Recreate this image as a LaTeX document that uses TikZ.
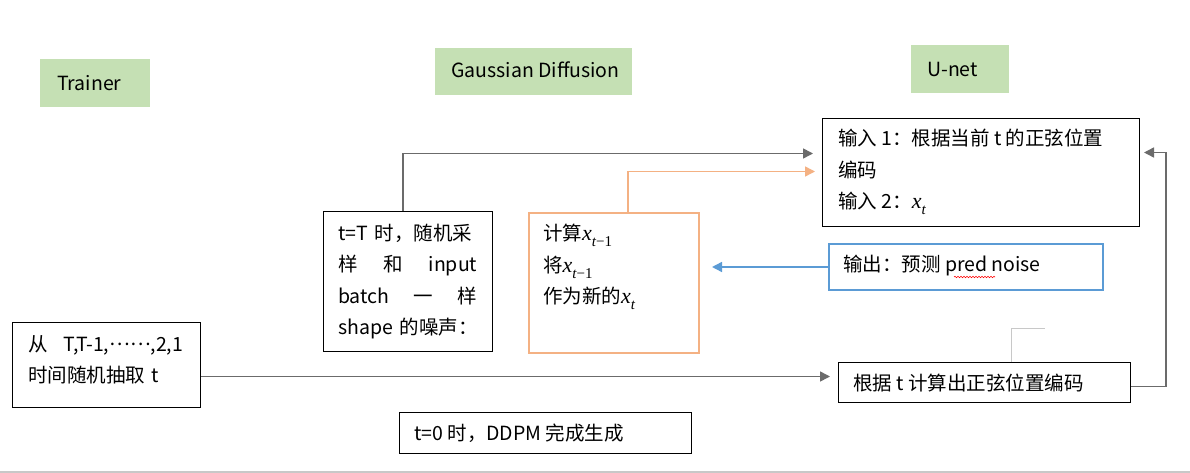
\documentclass[tikz,border=0pt]{standalone}
\usepackage{fontspec}
\setmainfont{Noto Sans CJK SC}
\newfontfamily\cambriaish{Liberation Serif}
\newcommand\vx[1]{{\fontsize{22}{22}\cambriaish\itshape x}\raisebox{-.3em}{\fontsize{15}{15}\cambriaish #1}}
\usetikzlibrary{arrows.meta,decorations.pathmorphing}
\definecolor{lgreen}{HTML}{C5E0B4}
\definecolor{org}{HTML}{F4B183}
\definecolor{blu}{HTML}{5B9BD5}
\definecolor{dgray}{HTML}{6B6B6B}
\definecolor{lgray}{HTML}{C8C8C8}
\begin{document}
\begin{tikzpicture}[x=1pt,y=-1pt,
  font=\fontsize{19.5}{31.5}\selectfont,
  box/.style={draw=black, line width=1pt, anchor=north west, inner sep=0pt},
  tag/.style={fill=lgreen, anchor=north west, inner sep=0pt},
  txt/.style={anchor=west, inner sep=0pt, align=left},
  arr/.style={-{Triangle[length=10pt,width=10pt]}, line width=1.5pt}]
\fill[white] (0,0) rectangle (1190,473);
\useasboundingbox (0,0) rectangle (1190,473);

% header tags
\node[tag, minimum width=110pt, minimum height=48pt] (trainer) at (40,59) {};
\node[txt] (trainerT) at (57,83) {Trainer};
\node[tag, minimum width=197pt, minimum height=47pt] (gauss) at (435,48) {};
\node[txt] (gaussT) at (451,70) {Gaussian Diffusion};
\node[tag, minimum width=98pt, minimum height=48pt] (unet) at (911,45) {};
\node[txt] (unetT) at (927,69) {U-net};

% U-net boxes
\node[box, minimum width=317pt, minimum height=108pt] (in) at (822,118) {};
\node[txt] (inT) at (838,172) {输入 1：根据当前 t 的正弦位置\\编码\\输入 2：\vx{\itshape t}};
\node[box, draw=blu, line width=2pt, minimum width=274pt, minimum height=46pt] (out) at (828,243) {};
\node[txt] (outT) at (843,266) {输出：预测 pred noise};
\node[box, minimum width=292pt, minimum height=40pt] (br) at (838,362) {};
\node[txt] (brT) at (853,383) {根据 t 计算出正弦位置编码};

% Trainer box
\node[box, minimum width=188pt, minimum height=85pt] (src) at (12,322) {};
\node[txt, text width=170pt] (srcT) at (28,360) {\makebox[155pt]{从\hfill T,T-1,\raisebox{.3em}{……},2,1}\\\mbox{时间随机抽取 t}};

% Gaussian Diffusion boxes
\node[box, minimum width=169pt, minimum height=140pt] (tT) at (323,211) {};
\node[txt, text width=160pt] (tTT) at (338,281.5) {\mbox{t=T 时，随机采}\\\makebox[139pt]{样\hfill 和\hfill input}\\\makebox[139pt]{batch\hfill 一\hfill 样}\\\mbox{shape 的噪声：}};
\node[box, draw=org, line width=2pt, minimum width=170pt, minimum height=140pt] (calc) at (528,212) {};
\node[txt] (calcT) at (543,267) {计算\vx{{\itshape t}−1}\\将\vx{{\itshape t}−1}\\作为新的\vx{\itshape t}};
\node[box, minimum width=292pt, minimum height=41pt] (done) at (399,412) {};
\node[txt] (doneT) at (414,433) {t=0 时，DDPM 完成生成};

% connectors
\draw[arr, dgray] ([xshift=80pt]tT.north west) |- ([xshift=-9pt,yshift=19pt]in.west);
\draw[arr, org] ([xshift=14pt]calc.north) |- ([xshift=-7pt,yshift=1pt]in.west);
\coordinate (bo) at (out.west -| calc.east);
\draw[arr, blu] (out.west) -- ([xshift=12pt]bo);
\coordinate (la) at ([yshift=-11.5pt]src.east);
\draw[arr, dgray, shorten >=8pt] (la) -- (la -| br.west);
\coordinate (ra) at ([yshift=-4pt]br.east);
\draw[arr, dgray, shorten >=4pt] (ra) -- ++(35,0) |- ([yshift=20pt]in.east);
\draw[lgray, line width=1pt] ([xshift=173pt]br.north west) -- ++(0,-34) -- ++(34,0);

% spell-check underline
\draw[red, line width=0.6pt, decorate, decoration={snake, amplitude=0.7pt, segment length=3pt}] (954,277) -- (995,277);

% bottom rule
\draw[lgray, line width=1.5pt] (0,472) -- (1190,472);
\end{tikzpicture}
\end{document}
